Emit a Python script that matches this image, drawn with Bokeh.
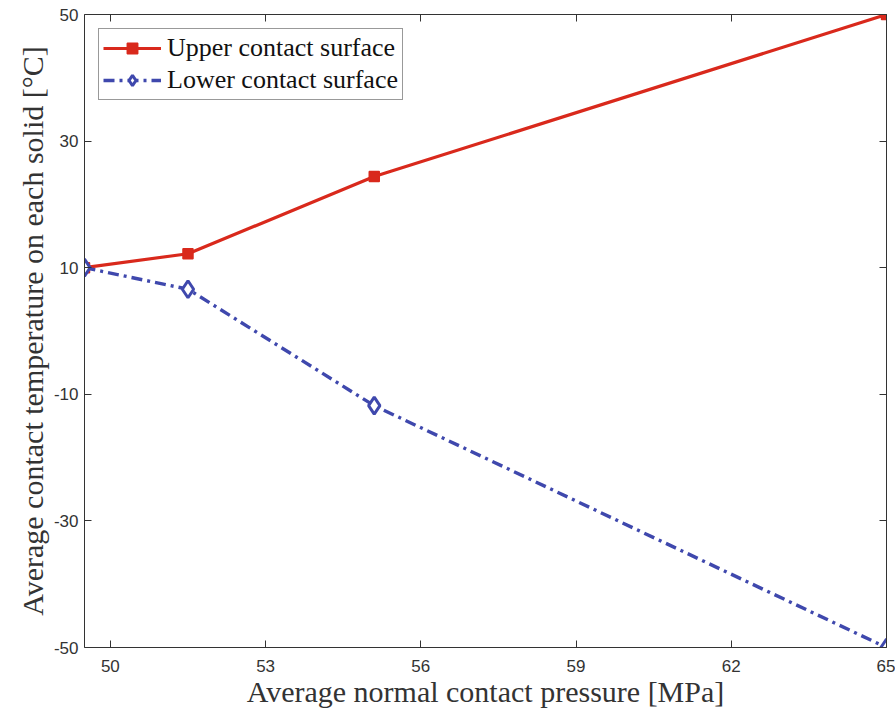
from bokeh.plotting import figure
from bokeh.models import Range1d, LinearAxis, FixedTicker, Legend, LegendItem
from bokeh.embed import file_html
from bokeh.resources import INLINE

# Average normal contact pressure [MPa]
pressure = [49.5, 51.5, 55.1, 65.0]
# Average contact temperature on each solid [°C]
upper_temp = [10.0, 12.2, 24.4, 50.0]
lower_temp = [10.0, 6.6, -11.8, -50.0]

x_ticks = [50, 53, 56, 59, 62, 65]
y_ticks = [-50, -30, -10, 10, 30, 50]
y_tick_labels = {-50: "-50", -30: "-30", -10: "-10", 10: "10", 30: "30", 50: "50"}

RED = "#d9291c"
BLUE = "#3f48ad"
AXIS = "#333333"
SERIF = "Liberation Serif"
SANS = "Liberation Sans"

p = figure(width=895, height=714, output_backend="svg", toolbar_location=None,
           x_range=Range1d(49.5, 65), y_range=Range1d(-50, 50),
           min_border_left=84, min_border_right=9, min_border_top=14,
           min_border_bottom=67)
p.outline_line_color = None
p.xgrid.visible = False
p.ygrid.visible = False
p.background_fill_color = "white"


def style_axis(ax, show_labels=True):
    ax.axis_line_color = AXIS
    ax.axis_line_width = 1
    ax.major_tick_in = 7
    ax.major_tick_out = 0
    ax.minor_tick_line_color = None
    ax.major_tick_line_color = AXIS
    ax.major_label_text_font = SANS
    ax.major_label_text_font_size = "17px"
    ax.major_label_text_color = "#333333" if show_labels else None


p.xaxis.ticker = FixedTicker(ticks=x_ticks)
p.yaxis.ticker = FixedTicker(ticks=y_ticks)
p.yaxis.major_label_overrides = y_tick_labels
style_axis(p.xaxis[0])
style_axis(p.yaxis[0])
p.xaxis.major_label_standoff = 12
p.yaxis.major_label_standoff = 6
p.xaxis.axis_label = "Average normal contact pressure [MPa]"
p.yaxis.axis_label = "Average contact temperature on each solid [°C]"
for ax in (p.xaxis[0], p.yaxis[0]):
    ax.axis_label_text_font = SERIF
    ax.axis_label_text_font_style = "normal"
    ax.axis_label_text_font_size = "30px"
    ax.axis_label_text_color = "#333333"
p.xaxis.axis_label_standoff = 0
p.yaxis.axis_label_standoff = 2

top_ax = LinearAxis(ticker=FixedTicker(ticks=x_ticks), major_label_text_font_size="0px",
                    major_label_standoff=0)
right_ax = LinearAxis(ticker=FixedTicker(ticks=y_ticks), major_label_text_font_size="0px",
                      major_label_standoff=0)
style_axis(top_ax, show_labels=False)
style_axis(right_ax, show_labels=False)
p.add_layout(top_ax, "above")
p.add_layout(right_ax, "right")

# Upper contact surface: solid red line with square markers
r_up_line = p.line(pressure, upper_temp, line_color=RED, line_width=3.2)
r_up_pts = p.scatter(pressure, upper_temp, marker="square", size=10,
                     fill_color=RED, line_color=RED, line_width=1.5)

# Lower contact surface: dash-dot blue line with open diamonds
r_lo_line = p.line(pressure, lower_temp, line_color=BLUE, line_width=3.4,
                   line_dash="11 5 3 5")
r_lo_pts = p.scatter(pressure, lower_temp, marker="diamond", size=17,
                     fill_color="white", line_color=BLUE, line_width=3)

legend = Legend(items=[
    LegendItem(label="Upper contact surface", renderers=[r_up_line, r_up_pts]),
    LegendItem(label="Lower contact surface", renderers=[r_lo_line, r_lo_pts]),
], location="top_left")
legend.margin = 14
legend.padding = 4
legend.spacing = 2
legend.glyph_width = 58
legend.glyph_height = 26
legend.label_height = 26
legend.label_text_font = SERIF
legend.label_text_font_size = "26px"
legend.label_text_color = "#111111"
legend.label_standoff = 6
legend.border_line_color = "#333333"
legend.border_line_width = 1
legend.background_fill_color = "white"
legend.background_fill_alpha = 1
p.add_layout(legend)

open("out.html", "w").write(file_html(p, INLINE))
